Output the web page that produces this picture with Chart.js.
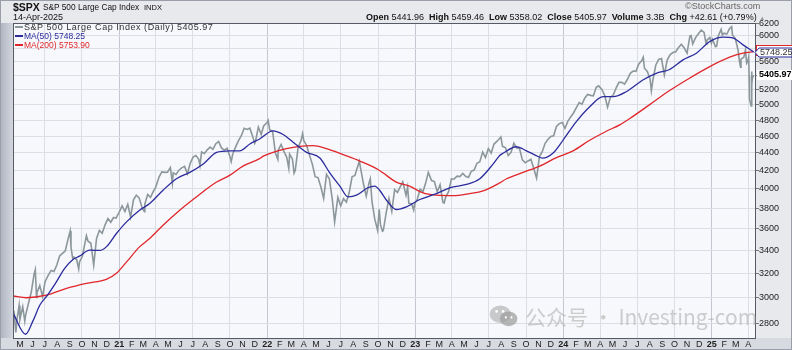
<!DOCTYPE html>
<html><head><meta charset="utf-8">
<script src="https://cdn.jsdelivr.net/npm/chart.js@4.4.1/dist/chart.umd.min.js"></script>
<style>
html,body{margin:0;padding:0;width:792px;height:350px;overflow:hidden;background:#e4e6eb;}
#wrap{position:relative;width:792px;height:350px;}
canvas{position:absolute;left:0;top:0;}
.t{position:absolute;white-space:nowrap;font-family:"Liberation Sans",Arial,sans-serif;color:#111;line-height:1;}
.b{font-weight:bold;}
.lg{position:absolute;white-space:nowrap;font-family:"Liberation Sans",Arial,sans-serif;line-height:1;}
.dash{display:inline-block;width:8px;height:2px;vertical-align:middle;margin-right:1px;position:relative;top:-1px;}
#wm{position:absolute;left:489px;top:304px;white-space:nowrap;font-family:"Noto Sans CJK SC","Noto Sans",sans-serif;font-size:21px;color:rgba(175,175,175,0.6);line-height:1;}
</style></head><body>
<div id="wrap">
<canvas id="c" width="792" height="350"></canvas>
<div class="t b" style="left:13px;top:2px;font-size:10.5px;">$SPX</div>
<div class="t" style="left:43px;top:3px;font-size:8.3px;">S&amp;P 500 Large Cap Index</div>
<div class="t" style="left:144px;top:4px;font-size:7.5px;">INDX</div>
<div class="t" style="left:13px;top:13px;font-size:9px;">14-Apr-2025</div>
<div class="t" style="left:685px;top:2px;font-size:9px;color:#666;">©StockCharts.com</div>
<div class="t" id="hdr" style="left:366px;top:13px;font-size:9px;"><span class="b">Open</span> 5441.96 &nbsp;<span class="b">High</span> 5459.46 &nbsp;<span class="b">Low</span> 5358.02 &nbsp;<span class="b">Close</span> 5405.97 &nbsp;<span class="b">Volume</span> 3.3B &nbsp;<span class="b">Chg</span> +42.61 (+0.79%) <span style="color:#999;font-size:6px;">▲</span></div>
<div class="lg" style="left:15px;top:23px;font-size:9px;color:#333;letter-spacing:0.55px;"><span class="dash" style="background:#8c979c;"></span>S&amp;P 500 Large Cap Index (Daily) 5405.97</div>
<div class="lg" style="left:15px;top:32px;font-size:8.5px;color:#2b2b9e;"><span class="dash" style="background:#2b2b9e;"></span>MA(50) 5748.25</div>
<div class="lg" style="left:15px;top:41px;font-size:8.5px;color:#e0262b;"><span class="dash" style="background:#e0262b;"></span>MA(200) 5753.90</div>
<div id="wm"><svg width="30" height="24" viewBox="0 0 32 26" style="vertical-align:-3px;margin-right:6px;"><ellipse cx="12" cy="11" rx="11.5" ry="9.5" fill="rgba(175,175,175,0.65)"/><ellipse cx="21" cy="16" rx="9.5" ry="8" fill="rgba(160,160,160,0.75)"/><circle cx="8" cy="8" r="1.4" fill="#fff"/><circle cx="15" cy="8" r="1.4" fill="#fff"/><circle cx="18" cy="14.5" r="1.2" fill="#fff"/><circle cx="24" cy="14.5" r="1.2" fill="#fff"/></svg>公众号 · Investing-com</div>
</div>
<script>
// ---- data ----
const startDate = '2020-04-14';
const closeDates = [
'2020-04-14','2020-04-17','2020-04-21','2020-04-24','2020-04-29','2020-05-01','2020-05-08','2020-05-13','2020-05-15','2020-05-22','2020-05-29','2020-06-05','2020-06-08','2020-06-11','2020-06-12','2020-06-19','2020-06-26','2020-07-02','2020-07-10','2020-07-17','2020-07-24','2020-07-31','2020-08-07','2020-08-14','2020-08-21','2020-08-28','2020-09-02','2020-09-04','2020-09-08','2020-09-11','2020-09-18','2020-09-23','2020-09-25','2020-10-02','2020-10-09','2020-10-12','2020-10-16','2020-10-23','2020-10-30','2020-11-06','2020-11-13','2020-11-20','2020-11-27','2020-12-04','2020-12-11','2020-12-18','2020-12-24','2020-12-31',
'2021-01-08','2021-01-15','2021-01-22','2021-01-27','2021-01-29','2021-02-05','2021-02-12','2021-02-19','2021-02-26','2021-03-04','2021-03-05','2021-03-12','2021-03-19','2021-03-26','2021-04-01','2021-04-09','2021-04-16','2021-04-23','2021-04-30','2021-05-07','2021-05-12','2021-05-14','2021-05-21','2021-05-28','2021-06-04','2021-06-11','2021-06-18','2021-06-25','2021-07-02','2021-07-09','2021-07-16','2021-07-19','2021-07-23','2021-07-30','2021-08-06','2021-08-13','2021-08-20','2021-08-27','2021-09-03','2021-09-10','2021-09-17','2021-09-24','2021-10-01','2021-10-04','2021-10-08','2021-10-15','2021-10-22','2021-10-29','2021-11-05','2021-11-12','2021-11-19','2021-11-26','2021-12-01','2021-12-03','2021-12-10','2021-12-17','2021-12-23','2021-12-31',
'2022-01-03','2022-01-07','2022-01-14','2022-01-21','2022-01-27','2022-01-28','2022-02-04','2022-02-11','2022-02-18','2022-02-23','2022-02-25','2022-03-04','2022-03-08','2022-03-11','2022-03-18','2022-03-25','2022-03-29','2022-04-01','2022-04-08','2022-04-14','2022-04-22','2022-04-29','2022-05-06','2022-05-13','2022-05-20','2022-05-27','2022-06-03','2022-06-10','2022-06-16','2022-06-24','2022-07-01','2022-07-08','2022-07-15','2022-07-22','2022-07-29','2022-08-05','2022-08-16','2022-08-19','2022-08-26','2022-09-02','2022-09-09','2022-09-12','2022-09-16','2022-09-23','2022-09-30','2022-10-04','2022-10-07','2022-10-12','2022-10-14','2022-10-21','2022-10-28','2022-11-04','2022-11-11','2022-11-18','2022-11-25','2022-12-01','2022-12-09','2022-12-13','2022-12-16','2022-12-23','2022-12-28','2022-12-30',
'2023-01-06','2023-01-13','2023-01-20','2023-01-27','2023-02-02','2023-02-10','2023-02-17','2023-02-24','2023-03-03','2023-03-10','2023-03-13','2023-03-17','2023-03-24','2023-03-31','2023-04-06','2023-04-14','2023-04-21','2023-04-28','2023-05-05','2023-05-12','2023-05-19','2023-05-26','2023-06-02','2023-06-09','2023-06-16','2023-06-23','2023-06-30','2023-07-07','2023-07-14','2023-07-21','2023-07-31','2023-08-04','2023-08-11','2023-08-18','2023-08-25','2023-09-01','2023-09-08','2023-09-15','2023-09-22','2023-09-29','2023-10-06','2023-10-13','2023-10-20','2023-10-27','2023-11-03','2023-11-10','2023-11-17','2023-11-24','2023-12-01','2023-12-08','2023-12-15','2023-12-22','2023-12-29',
'2024-01-05','2024-01-12','2024-01-19','2024-01-26','2024-02-02','2024-02-09','2024-02-16','2024-02-23','2024-03-01','2024-03-08','2024-03-15','2024-03-22','2024-03-28','2024-04-05','2024-04-12','2024-04-19','2024-04-26','2024-05-03','2024-05-10','2024-05-17','2024-05-24','2024-05-31','2024-06-07','2024-06-14','2024-06-21','2024-06-28','2024-07-05','2024-07-12','2024-07-16','2024-07-19','2024-07-26','2024-08-02','2024-08-05','2024-08-09','2024-08-16','2024-08-23','2024-08-30','2024-09-06','2024-09-13','2024-09-20','2024-09-27','2024-10-04','2024-10-11','2024-10-18','2024-10-25','2024-11-01','2024-11-08','2024-11-11','2024-11-15','2024-11-22','2024-11-29','2024-12-06','2024-12-13','2024-12-18','2024-12-20','2024-12-27','2024-12-31',
'2025-01-03','2025-01-10','2025-01-13','2025-01-17','2025-01-24','2025-01-27','2025-01-31','2025-02-07','2025-02-14','2025-02-19','2025-02-21','2025-02-28','2025-03-07','2025-03-10','2025-03-13','2025-03-14','2025-03-21','2025-03-25','2025-03-28','2025-03-31','2025-04-02','2025-04-03','2025-04-04','2025-04-08','2025-04-09','2025-04-10','2025-04-11','2025-04-14'];
const closeValues = [
2846,2875,2737,2837,2939,2831,2930,2820,2864,2955,3044,3194,3232,3002,3041,3098,3009,3130,3185,3225,3216,3271,3351,3373,3397,3508,3580,3427,3332,3341,3319,3237,3298,3348,3477,3535,3484,3465,3270,3510,3585,3558,3638,3699,3663,3709,3703,3756,
3825,3768,3841,3751,3714,3887,3934,3907,3811,3768,3842,3943,3913,3975,4020,4129,4185,4180,4181,4233,4063,4174,4156,4204,4230,4247,4166,4281,4352,4370,4327,4258,4412,4395,4437,4468,4442,4509,4535,4459,4433,4455,4357,4300,4391,4471,4545,4605,4697,4683,4698,4595,4513,4538,4712,4620,4725,4766,
4796,4677,4663,4398,4326,4432,4501,4419,4349,4225,4385,4329,4171,4204,4463,4543,4632,4546,4488,4392,4272,4132,4123,4024,3901,4158,4109,3901,3667,3912,3825,3899,3863,3962,4130,4145,4305,4228,4058,3924,4067,4110,3873,3693,3586,3791,3640,3577,3583,3753,3901,3771,3993,3965,4026,4077,3934,4020,3852,3845,3783,3840,
3895,3999,3973,4071,4180,4090,4079,3970,4046,3862,3855,3917,3971,4109,4105,4138,4133,4169,4136,4124,4192,4205,4282,4299,4410,4348,4450,4399,4505,4536,4589,4478,4464,4370,4406,4515,4457,4450,4320,4288,4308,4327,4224,4117,4358,4415,4514,4559,4595,4604,4719,4755,4770,
4697,4784,4840,4891,4959,5027,5006,5089,5137,5124,5117,5234,5254,5204,5123,4967,5100,5128,5223,5303,5305,5278,5347,5432,5465,5460,5567,5615,5667,5505,5459,5346,5186,5344,5554,5634,5648,5408,5626,5703,5738,5751,5815,5865,5808,5729,5995,6001,5870,5969,6032,6090,6051,5872,5931,5971,5882,
5942,5827,5836,5997,6101,6012,6041,6026,6115,6144,6013,5955,5770,5615,5522,5639,5667,5777,5581,5612,5671,5397,5074,4983,5457,5268,5363,5405.97];
const ma50Dates = ['2020-04-14','2020-05-15','2020-06-02','2020-06-19','2020-07-08','2020-07-30','2020-08-19','2020-09-09','2020-09-25','2020-10-20','2020-11-14','2020-11-30','2020-12-25','2021-01-19','2021-02-20','2021-03-17','2021-04-19','2021-05-22','2021-06-24','2021-07-27','2021-08-29','2021-09-30','2021-10-25','2021-11-19','2021-12-13','2022-01-15','2022-02-09','2022-03-05','2022-04-08','2022-05-10','2022-06-04','2022-06-29','2022-07-19','2022-08-09','2022-09-06','2022-09-23','2022-10-05','2022-10-22','2022-11-15','2022-12-10','2023-01-12','2023-02-22','2023-03-27','2023-05-07','2023-06-09','2023-07-12','2023-07-28','2023-08-05','2023-09-07','2023-10-02','2023-10-26','2023-11-11','2023-12-06','2023-12-31','2024-02-02','2024-03-06','2024-04-08','2024-05-03','2024-06-04','2024-07-15','2024-08-17','2024-09-19','2024-10-22','2024-11-24','2024-12-27','2025-01-29','2025-02-23','2025-03-19','2025-04-14'];
const ma50Values = [2880,2724,2820,2941,3020,3129,3241,3319,3349,3402,3400,3432,3556,3667,3782,3849,3987,4110,4180,4274,4407,4425,4425,4506,4566,4664,4620,4530,4407,4345,4175,4030,3917,3935,4013,4030,3987,3883,3789,3815,3890,3952,4013,4048,4110,4274,4370,4396,4473,4425,4370,4340,4396,4550,4780,4972,5106,5106,5174,5337,5432,5487,5628,5729,5908,5977,5960,5856,5748.25];
const ma200Dates = ['2020-04-14','2020-05-17','2020-07-05','2020-08-24','2020-10-12','2020-11-30','2020-12-25','2021-01-19','2021-02-20','2021-03-17','2021-04-19','2021-05-30','2021-07-10','2021-08-29','2021-09-30','2021-11-02','2021-12-13','2021-12-22','2022-01-15','2022-02-17','2022-03-22','2022-04-24','2022-05-27','2022-07-07','2022-08-17','2022-10-01','2022-10-13','2022-11-15','2022-12-18','2023-01-20','2023-02-22','2023-04-04','2023-05-15','2023-06-17','2023-07-28','2023-08-14','2023-09-24','2023-11-04','2023-12-15','2024-01-25','2024-03-06','2024-04-16','2024-05-19','2024-06-13','2024-08-01','2024-09-19','2024-11-07','2024-12-27','2025-02-14','2025-03-19','2025-04-14'];
const ma200Values = [3014,3000,3020,3075,3116,3149,3200,3298,3432,3509,3635,3782,3917,4074,4147,4250,4334,4363,4407,4450,4477,4485,4450,4380,4307,4212,4175,4074,4030,3958,3935,3930,3952,3980,4065,4110,4180,4250,4345,4425,4550,4660,4740,4820,5000,5190,5362,5529,5668,5729,5753.90];
const yTickValues = [2800,3000,3200,3400,3600,3800,4000,4200,4400,4600,4800,5000,5200,5400,5600,5800,6000,6200];
const monthLetters = ['J','F','M','A','M','J','J','A','S','O','N','D'];

// ---- helpers ----
function dayIndex(s){const p=s.split('-').map(Number);const q=startDate.split('-').map(Number);return (Date.UTC(p[0],p[1]-1,p[2])-Date.UTC(q[0],q[1]-1,q[2]))/86400000;}
function pts(d,v){return d.map((s,i)=>({x:dayIndex(s),y:v[i]}));}
const tickInfo={};

const frame={id:'frame',
 beforeDraw(ch){const c=ch.ctx,a=ch.chartArea;c.save();
  c.fillStyle='#e8e9ed';c.fillRect(0,0,792,350);
  const g=c.createLinearGradient(0,0,13,0);g.addColorStop(0,'#aeb3c0');g.addColorStop(1,'#d3d6de');
  c.fillStyle=g;c.fillRect(0,a.top,a.left,350-a.top);
  c.fillStyle='#d7dae1';c.fillRect(0,a.bottom,792,350-a.bottom);
  c.fillStyle='#f7f8fb';c.fillRect(a.left,a.top,a.right-a.left,a.bottom-a.top);
  c.strokeStyle='#9a9ea8';c.lineWidth=1;c.strokeRect(0.5,0.5,791,349);
  c.restore();},
 afterDraw(ch){const c=ch.ctx,a=ch.chartArea,y=ch.scales.y;c.save();
  c.strokeStyle='#555a66';c.lineWidth=1;c.strokeRect(a.left+0.5,a.top+0.5,a.right-a.left-1,a.bottom-a.top);
  const r=Math.round(y.getPixelForValue(ma200Values[ma200Values.length-1]))-1;
  c.fillStyle='#fff';c.strokeStyle='#e0262b';c.fillRect(a.right,r-5,792-a.right,10);c.strokeRect(a.right+0.5,r-5.5,792-a.right,10);
  const b=Math.round(y.getPixelForValue(ma50Values[ma50Values.length-1]))+0.5;
  c.beginPath();c.moveTo(a.right-1,b);c.lineTo(a.right+3,b-4.5);c.lineTo(792,b-4.5);c.lineTo(792,b+4.5);c.lineTo(a.right+3,b+4.5);c.closePath();
  c.fillStyle='#fff';c.fill();c.strokeStyle='#2b2b9e';c.stroke();
  c.font='9px "Liberation Sans", Arial';c.fillStyle='#333';c.textBaseline='middle';c.fillText(ma50Values[ma50Values.length-1].toFixed(2),a.right+4,b+0.5);
  const p=Math.round(y.getPixelForValue(closeValues[closeValues.length-1]));
  c.fillStyle='#fff';c.fillRect(a.right+1,p-5,792-a.right-1,10);
  c.font='bold 9px "Liberation Sans", Arial';c.fillStyle='#000';c.fillText(closeValues[closeValues.length-1].toFixed(2),a.right+3,p);
  c.restore();}
};

new Chart(document.getElementById('c'),{
 type:'line',
 data:{datasets:[
  {data:pts(ma50Dates,ma50Values),borderColor:'#2b2b9e',borderWidth:1.3,pointRadius:0,cubicInterpolationMode:'monotone'},
  {data:pts(ma200Dates,ma200Values),borderColor:'#e0262b',borderWidth:1.3,pointRadius:0,cubicInterpolationMode:'monotone'},
  {data:pts(closeDates,closeValues),borderColor:'#8c979c',borderWidth:1.6,pointRadius:0,tension:0}
 ]},
 options:{responsive:false,animation:false,devicePixelRatio:1,
  layout:{padding:{left:13,top:23,right:0,bottom:0}},
  plugins:{legend:{display:false},tooltip:{enabled:false}},
  scales:{
   x:{type:'linear',min:0,max:1832,
    afterBuildTicks(s){const t=[];for(let yr=2020;yr<=2025;yr++){for(let m=1;m<=12;m++){if(yr===2020&&m<5)continue;if(yr===2025&&m>4)break;const v=dayIndex(yr+'-'+String(m).padStart(2,'0')+'-01');tickInfo[v]={yr,m};t.push({value:v});}}s.ticks=t;},
    afterFit(s){s.height=12;},
    border:{display:false},
    grid:{drawTicks:false,color(c){const i=tickInfo[c.tick&&c.tick.value];if(!i)return 'rgba(0,0,0,0)';if(i.m===1)return '#c4c7cf';return (i.m%3===1)?'#dcdee5':'rgba(0,0,0,0)';}},
    ticks:{autoSkip:false,maxRotation:0,padding:1,color:'#222',
     font(c){const i=tickInfo[c.tick&&c.tick.value];return {family:'"Liberation Sans", Arial',size:9,weight:(i&&i.m===1)?'bold':'normal'};},
     callback(v){const i=tickInfo[v];if(!i)return '';return i.m===1?String(i.yr).slice(2):monthLetters[i.m-1];}}
   },
   y:{type:'logarithmic',position:'right',min:2697,max:6205,
    afterBuildTicks(s){s.ticks=yTickValues.map(v=>({value:v}));},
    afterFit(s){s.width=36;},
    border:{display:false},
    grid:{color:'#dcdee5',tickLength:3,tickColor:'#777'},
    ticks:{padding:0,color:'#222',font:{family:'"Liberation Sans", Arial',size:9},callback(v){return String(v);}}
   }
  }
 },
 plugins:[frame]
});
</script>
</body></html>
